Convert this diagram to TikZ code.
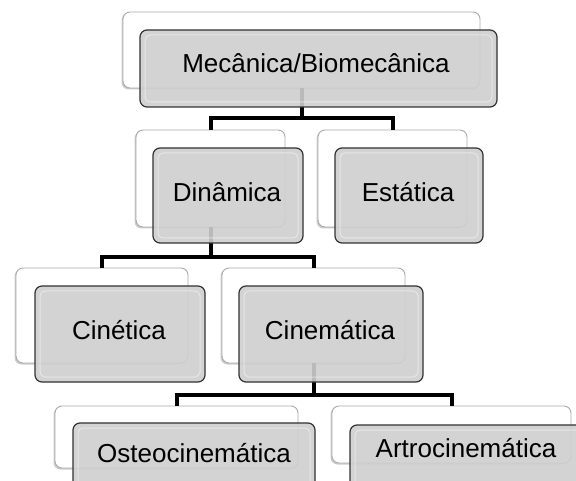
\documentclass[tikz,border=0pt]{standalone}
\usepackage{fontspec}
\setmainfont{Liberation Sans}
\usetikzlibrary{shadows,calc}
\definecolor{boxgray}{RGB}{207,207,207}
\definecolor{boxedge}{RGB}{50,50,50}
\definecolor{backedge}{RGB}{170,170,170}
\begin{document}
\begin{tikzpicture}[x=1pt,y=-1pt,
  backbox/.style={draw=backedge, line width=0.9pt, fill=white, rounded corners=7pt,
    inner sep=0pt, outer sep=0pt,
    drop shadow={shadow xshift=-1.5pt, shadow yshift=-1.5pt, fill=black, opacity=0.2}},
  frontbox/.style={draw=boxedge, line width=1.2pt, fill=boxgray, fill opacity=0.9,
    rounded corners=7pt, inner sep=0pt, outer sep=0pt},
  lbl/.style={anchor=base, inner sep=0pt, font=\fontsize{26}{30}\selectfont, text=black},
  conn/.style={draw=black, line width=4pt},
  bevel/.style={draw=white, line width=1pt, opacity=0.45, rounded corners=5pt}
]
\useasboundingbox (0,0) rectangle (576,481);
\fill[white] (0,0) rectangle (576,481);
\clip (0,0) rectangle (576,481);

% back (white) boxes
\node[backbox, minimum width=357pt, minimum height=76pt] (mB)  at (301.5,50) {};
\node[backbox, minimum width=149pt, minimum height=97pt] (dB)  at (210.5,178.5) {};
\node[backbox, minimum width=149pt, minimum height=97pt] (eB)  at (392.5,178.5) {};
\node[backbox, minimum width=172pt, minimum height=95pt] (ciB) at (102,315.5) {};
\node[backbox, minimum width=183pt, minimum height=95pt] (cmB) at (313.5,315.5) {};
\node[backbox, minimum width=243pt, minimum height=62pt] (osB) at (176.5,437) {};
\node[backbox, minimum width=239pt, minimum height=57pt] (arB) at (451.5,434.5) {};

% connectors
\draw[conn] (mB.south) -- ++(0,30.5) coordinate (j1) -| (dB.north);
\draw[conn] (j1) -| (eB.north);
\draw[conn] (dB.south) -- ++(0,30) coordinate (j2) -| (ciB.north);
\draw[conn] (j2) -| (cmB.north);
\draw[conn] (cmB.south) -- ++(0,32) coordinate (j3) -| (osB.north);
\draw[conn] (j3) -| (arB.north);

% front (gray) boxes
\node[frontbox, minimum width=357pt, minimum height=77pt] (m)  at (318.5,68.5) {};
\node[frontbox, minimum width=150pt, minimum height=95pt] (d)  at (228,195.5) {};
\node[frontbox, minimum width=148pt, minimum height=95pt] (e)  at (409,195.5) {};
\node[frontbox, minimum width=170pt, minimum height=96pt] (ci) at (120,334) {};
\node[frontbox, minimum width=184pt, minimum height=96pt] (cm) at (331,334) {};
\node[frontbox, minimum width=242pt, minimum height=97pt] (os) at (194,471.5) {};
\node[frontbox, minimum width=240pt, minimum height=95pt] (ar) at (470,472.5) {};

\foreach \n in {m,d,e,ci,cm,os,ar}
  \draw[bevel] ($(\n.north west)+(5,5)$) rectangle ($(\n.south east)+(-5,-5)$);

% labels
\node[lbl] (tm)  at (316,73)  {Mecânica/Biomecânica};
\node[lbl] (td)  at (227,202) {Dinâmica};
\node[lbl] (te)  at (408,202) {Estática};
\node[lbl] (tci) at (119,339) {Cinética};
\node[lbl] (tcm) at (330,339) {Cinemática};
\node[lbl] (tos) at (194,462) {Osteocinemática};
\node[lbl] (tar) at (466,457) {Artrocinemática};
\end{tikzpicture}
\end{document}
